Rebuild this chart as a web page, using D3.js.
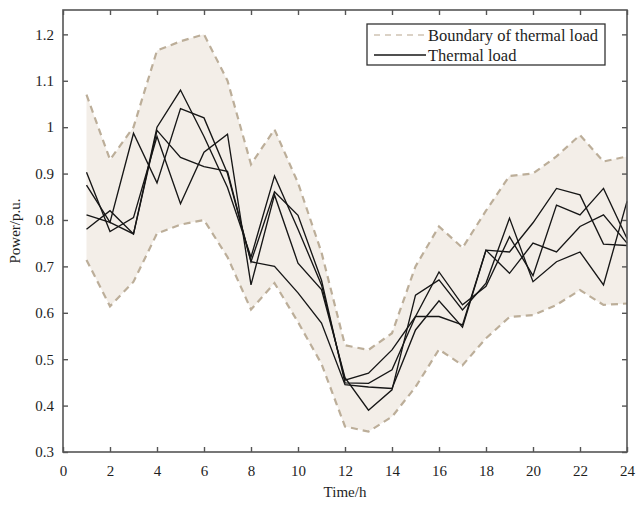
<!DOCTYPE html>
<html>
<head>
<meta charset="utf-8">
<script src="https://cdn.jsdelivr.net/npm/d3@7"></script>
<style>
  body { margin: 0; background: #fff; }
  text { font-family: "Liberation Serif", "Times New Roman", serif; fill: #1e1e1e; }
</style>
</head>
<body>
<div id="chart"></div>
<script>
var hours = d3.range(1, 25);
var upper = [1.07, 0.93, 1.0, 1.165, 1.185, 1.2, 1.1, 0.92, 0.995, 0.88, 0.73, 0.53,
             0.52, 0.556, 0.7, 0.786, 0.74, 0.82, 0.895, 0.9, 0.937, 0.983, 0.926, 0.937];
var lower = [0.714, 0.614, 0.667, 0.771, 0.79, 0.8, 0.72, 0.607, 0.664, 0.58, 0.49, 0.355,
             0.344, 0.376, 0.44, 0.521, 0.487, 0.545, 0.591, 0.595, 0.617, 0.649, 0.617, 0.62];
var loadA = [0.78, 0.82, 0.77, 1.0, 1.08, 0.98, 0.87, 0.72, 0.895, 0.78, 0.66, 0.455,
             0.47, 0.52, 0.592, 0.592, 0.574, 0.735, 0.731, 0.794, 0.868, 0.854, 0.748, 0.745];
var loadB = [0.875, 0.795, 0.987, 0.88, 1.04, 1.02, 0.9, 0.71, 0.861, 0.81, 0.67, 0.449,
             0.448, 0.477, 0.592, 0.688, 0.617, 0.657, 0.764, 0.68, 0.832, 0.811, 0.868, 0.76];
var loadC = [0.811, 0.795, 0.77, 0.993, 0.935, 0.915, 0.905, 0.71, 0.70, 0.643, 0.578, 0.445,
             0.44, 0.437, 0.563, 0.626, 0.569, 0.735, 0.685, 0.75, 0.731, 0.786, 0.811, 0.75];
var loadD = [0.903, 0.775, 0.805, 0.98, 0.835, 0.946, 0.985, 0.66, 0.854, 0.707, 0.65, 0.46,
             0.39, 0.434, 0.638, 0.671, 0.606, 0.664, 0.804, 0.667, 0.71, 0.731, 0.66, 0.84];
var loads = [loadA, loadB, loadC, loadD];
var xTicks = d3.range(0, 25, 2);
var yTicks = [0.3, 0.4, 0.5, 0.6, 0.7, 0.8, 0.9, 1, 1.1, 1.2];

var WIDTH = 640, HEIGHT = 507;
var L = 63, R = 627, T = 10, B = 452;

var x = d3.scaleLinear().domain([0, 24]).range([L, R]);
var y = d3.scaleLinear().domain([0.3, 1.2525]).range([B, T]);

var svg = d3.select('#chart').append('svg')
  .attr('width', WIDTH).attr('height', HEIGHT);

// band between boundaries
var area = d3.area()
  .x(function(d, i) { return x(hours[i]); })
  .y0(function(d, i) { return y(lower[i]); })
  .y1(function(d) { return y(d); });
svg.append('path').datum(upper)
  .attr('d', area).attr('fill', '#f3eee8');

var line = d3.line()
  .x(function(d, i) { return x(hours[i]); })
  .y(function(d) { return y(d); });

[upper, lower].forEach(function(b) {
  svg.append('path').datum(b)
    .attr('d', line).attr('fill', 'none')
    .attr('stroke', '#bcae99').attr('stroke-width', 2.2)
    .attr('stroke-dasharray', '7,5');
});

loads.forEach(function(s) {
  svg.append('path').datum(s)
    .attr('d', line).attr('fill', 'none')
    .attr('stroke', '#161616').attr('stroke-width', 1.35);
});

// axes, ticks pointing inward on all four sides
var xAxis = d3.axisBottom(x).tickValues(xTicks).tickSizeInner(-5).tickSizeOuter(0).tickPadding(13);
var yAxis = d3.axisLeft(y).tickValues(yTicks).tickSizeInner(-5).tickSizeOuter(0).tickPadding(9)
  .tickFormat(function(d) { return d3.format('')(+d.toFixed(1)); });

svg.append('g').attr('transform', 'translate(0,' + B + ')').call(xAxis);
svg.append('g').attr('transform', 'translate(' + L + ',0)').call(yAxis);
svg.append('g').attr('transform', 'translate(0,' + T + ')')
  .call(d3.axisTop(x).tickValues(xTicks).tickSizeInner(-5).tickSizeOuter(0).tickFormat(''));
svg.append('g').attr('transform', 'translate(' + R + ',0)')
  .call(d3.axisRight(y).tickValues(yTicks).tickSizeInner(-5).tickSizeOuter(0).tickFormat(''));

svg.selectAll('.domain').remove();
svg.selectAll('.tick line').attr('stroke', '#555').attr('stroke-width', 1.4);
svg.selectAll('.tick text').style('font-size', '15px').style('font-family', '"Liberation Serif", serif').attr('fill', '#1e1e1e');

svg.append('rect')
  .attr('x', L).attr('y', T).attr('width', R - L).attr('height', B - T)
  .attr('fill', 'none').attr('stroke', '#555').attr('stroke-width', 1.6);

svg.append('text')
  .attr('x', (L + R) / 2).attr('y', 497)
  .attr('text-anchor', 'middle').style('font-size', '15px')
  .text('Time/h');
svg.append('text')
  .attr('transform', 'translate(20,' + ((T + B) / 2) + ') rotate(-90)')
  .attr('text-anchor', 'middle').style('font-size', '15px')
  .text('Power/p.u.');

// legend
var lg = svg.append('g');
lg.append('rect')
  .attr('x', 367).attr('y', 24).attr('width', 238).attr('height', 41)
  .attr('fill', '#fff').attr('stroke', '#333').attr('stroke-width', 1.3);
lg.append('line')
  .attr('x1', 374).attr('x2', 426).attr('y1', 35).attr('y2', 35)
  .attr('stroke', '#cfc4b4').attr('stroke-width', 1.5).attr('stroke-dasharray', '6,5');
lg.append('line')
  .attr('x1', 374).attr('x2', 426).attr('y1', 55).attr('y2', 55)
  .attr('stroke', '#161616').attr('stroke-width', 1.3);
lg.append('text').attr('x', 428).attr('y', 41).style('font-size', '16.5px')
  .text('Boundary of thermal load');
lg.append('text').attr('x', 428).attr('y', 61).style('font-size', '16.5px')
  .text('Thermal load');
</script>
</body>
</html>
